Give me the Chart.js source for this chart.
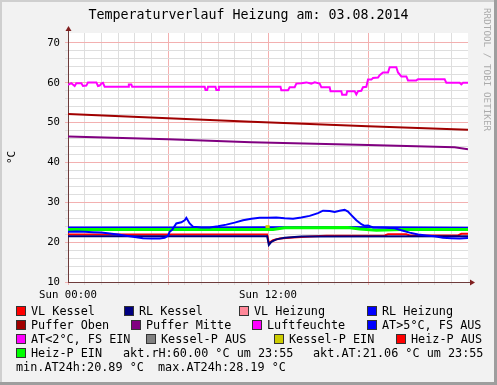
<!DOCTYPE html>
<html>
<head>
<meta charset="utf-8">
<script src="https://cdn.jsdelivr.net/npm/chart.js@4.4.1/dist/chart.umd.min.js"></script>
<style>
  html, body { margin: 0; padding: 0; background: #f2f2f2; }
  canvas { display: block; }
</style>
</head>
<body>
<canvas id="myChart" width="497" height="385"></canvas>
<script>
const ctx = document.getElementById('myChart').getContext('2d');

const chartTitle = "Temperaturverlauf Heizung am: 03.08.2014";
const yAxisTitle = "°C";
const watermark = "RRDTOOL / TOBI OETIKER";

// x = hours since Sun 00:00
const xTickLabels = { 0: "Sun 00:00", 12: "Sun 12:00" };

const seriesNames = [
    "VL Kessel", "RL Kessel", "VL Heizung", "RL Heizung",
    "Puffer Oben", "Puffer Mitte", "Luftfeuchte", "AT>5°C, FS AUS",
    "AT<2°C, FS EIN", "Kessel-P AUS", "Kessel-P EIN", "Heiz-P AUS",
    "Heiz-P EIN",
];
const seriesColors = [
    "#ff0000", "#000080", "#ff8899", "#0000ff",
    "#a00000", "#800080", "#ff00ff", "#0000ff",
    "#ff00ff", "#808080", "#cccc00", "#ff0000",
    "#00ff00",
];

// values per series (time in hours, value in °C / %)
const vlKesselT = [0, 11.95, 12.05, 12.3, 12.7, 13.5, 14.5, 15.5, 19.0, 19.2, 20.3, 20.5, 23.4, 23.6, 24];
const vlKesselV = [21.9, 21.9, 19.8, 20.5, 20.9, 21.2, 21.4, 21.6, 21.7, 22.0, 22.0, 21.7, 21.7, 22.1, 22.1];

const rlKesselT = [0, 11.95, 12.05, 12.2, 12.5, 13.0, 14.0, 24];
const rlKesselV = [21.5, 21.5, 19.3, 20.1, 20.7, 21.1, 21.4, 21.5];

const vlHeizungT = [];
const vlHeizungV = [];

const rlHeizungT = [0, 8, 16, 24];
const rlHeizungV = [23.7, 23.7, 23.8, 23.6];

const pufferObenT = [0, 6, 11, 18, 24];
const pufferObenV = [52.2, 51.1, 50.2, 49.1, 48.2];

const pufferMitteT = [0, 6, 11, 18, 23.2, 24];
const pufferMitteV = [46.5, 45.8, 45.1, 44.4, 43.8, 43.3];

const luftT = [0, 0.2, 0.4, 0.5, 0.8, 0.9, 1.1, 1.2, 1.7, 1.8, 1.9, 2.0, 2.1, 2.2,
    3.6, 3.65, 3.8, 3.85, 8.2, 8.25, 8.35, 8.4, 8.85, 8.9, 9.0, 9.05,
    12.75, 12.8, 13.2, 13.3, 13.6, 13.7, 14.0, 14.3, 14.6, 14.8, 15.1, 15.2,
    15.7, 15.75, 16.4, 16.45, 16.7, 16.75, 17.2, 17.3, 17.4, 17.6, 17.7, 17.9,
    18.0, 18.2, 18.3, 18.6, 18.7, 18.9, 19.2, 19.3, 19.7, 19.8, 20.0, 20.3,
    20.4, 20.9, 21.0, 22.6, 22.7, 23.5, 23.6, 23.7, 24];
const luftV = [59.5, 59.9, 59.2, 59.9, 59.9, 59.2, 59.3, 60.1, 60.1, 59.2, 59.3, 59.8, 60.0, 59.0,
    59.0, 59.6, 59.6, 59.0, 59.0, 58.2, 58.2, 59.0, 59.0, 58.2, 58.2, 59.0,
    59.0, 58.1, 58.1, 58.9, 58.9, 59.8, 59.9, 60.1, 59.8, 60.1, 59.8, 58.9,
    58.9, 57.9, 57.9, 57.0, 57.0, 57.9, 57.9, 57.1, 57.9, 58.0, 58.9, 59.0,
    60.8, 60.8, 61.2, 61.3, 61.9, 62.6, 62.6, 63.9, 63.9, 62.6, 61.6, 61.6,
    60.6, 60.6, 60.9, 60.9, 60.0, 60.0, 59.6, 60.0, 60.0];

const atT = [0, 0.5, 1, 1.5, 2, 2.5, 3, 3.5, 4, 4.5, 5, 5.5, 5.8, 6.0, 6.1, 6.25,
    6.5, 6.8, 7.0, 7.1, 7.3, 7.5, 8, 8.5, 9, 9.5, 10, 10.5, 11, 11.5, 12, 12.5,
    13, 13.5, 14, 14.5, 15, 15.3, 15.7, 16, 16.3, 16.6, 16.8, 17.0, 17.3, 17.6,
    17.8, 18.0, 18.3, 19.0, 19.6, 20.0, 20.5, 21.0, 21.5, 22.0, 22.5, 23.0, 23.5, 24];
const atV = [22.6, 22.7, 22.6, 22.5, 22.4, 22.2, 21.9, 21.6, 21.3, 21.0, 20.9, 20.9, 21.1, 21.6, 22.6, 23.1,
    24.7, 25.0, 25.5, 26.1, 24.7, 23.9, 23.7, 23.7, 24.0, 24.4, 24.9, 25.5, 25.9, 26.1, 26.1, 26.2,
    26.0, 25.9, 26.2, 26.6, 27.3, 27.9, 27.8, 27.6, 27.9, 28.1, 27.7, 26.8, 25.5, 24.5,
    24.1, 24.2, 23.7, 23.6, 23.5, 23.0, 22.4, 21.9, 21.7, 21.5, 21.1, 21.0, 20.9, 21.06];

const atFrostT = [];
const atFrostV = [];

const kesselAusT = [];
const kesselAusV = [];

const kesselEinT = [11.85, 12.1];
const kesselEinV = [23.9, 23.9];

const heizAusT = [];
const heizAusV = [];

const heizEinT = [0, 11.0, 12.3, 13.0, 16.8, 17.5, 18.5, 20.0, 24];
const heizEinV = [23.2, 23.2, 23.2, 23.6, 23.7, 23.3, 23.0, 23.2, 23.2];

// summary lines printed under the legend
const aktRH = 60.00;
const aktAT = 21.06;
const minAT24h = 20.89;
const maxAT24h = 28.19;
const statTime = "23:55";

const seriesT = [vlKesselT, rlKesselT, vlHeizungT, rlHeizungT, pufferObenT, pufferMitteT,
    luftT, atT, atFrostT, kesselAusT, kesselEinT, heizAusT, heizEinT];
const seriesV = [vlKesselV, rlKesselV, vlHeizungV, rlHeizungV, pufferObenV, pufferMitteV,
    luftV, atV, atFrostV, kesselAusV, kesselEinV, heizAusV, heizEinV];
// draw order (lower = on top)
const seriesOrder = [4, 3, 8, 7, 8, 8, 8, 1, 8, 8, 6, 8, 5];
const seriesWidth = [2, 2, 2, 2, 2, 2, 2, 2, 2, 2, 3, 2, 3];

const mono = "'DejaVu Sans Mono', monospace";
const gridMinor = "#dedede";
const gridMajor = "#f3b0b0";
const axisColor = "#6e3c3c";
const arrowColor = "#801f1f";

// legend layout: box x, row y
const legendSlots = [
    [17, 311], [125, 311], [240, 311], [368, 311],
    [17, 325], [132, 325], [253, 325], [368, 325],
    [17, 339], [147, 339], [275, 339], [397, 339],
    [17, 353],
];
const statLines = [
    [123, 353, `akt.rH:${aktRH.toFixed(2)} °C um ${statTime}`],
    [313, 353, `akt.AT:${aktAT.toFixed(2)} °C um ${statTime}`],
    [16, 367, `min.AT24h:${minAT24h.toFixed(2)} °C`],
    [158, 367, `max.AT24h:${maxAT24h.toFixed(2)} °C`],
];

const datasets = seriesNames.map((name, i) => ({
    label: name,
    data: seriesT[i].map((t, j) => ({ x: t, y: seriesV[i][j] })),
    borderColor: seriesColors[i],
    backgroundColor: seriesColors[i],
    borderWidth: seriesWidth[i],
    pointRadius: 0,
    tension: 0,
    fill: false,
    order: seriesOrder[i],
}));

const rrdFrame = {
    id: 'rrdFrame',
    beforeDraw(chart) {
        const c = chart.ctx, a = chart.chartArea, w = chart.width, h = chart.height;
        c.save();
        c.fillStyle = '#f2f2f2';
        c.fillRect(0, 0, w, h);
        c.fillStyle = '#cfcfcf';
        c.fillRect(0, 0, w, 2);
        c.fillRect(0, 0, 2, h);
        c.fillStyle = '#9e9e9e';
        c.fillRect(w - 3, 0, 3, h);
        c.fillRect(0, h - 3, w, 3);
        c.fillStyle = '#ffffff';
        c.fillRect(a.left, a.top, a.right - a.left, a.bottom - a.top);
        c.restore();
    },
    afterDraw(chart) {
        const c = chart.ctx, a = chart.chartArea, w = chart.width;
        c.save();
        // axis extensions + arrows
        c.strokeStyle = axisColor;
        c.lineWidth = 1;
        c.beginPath();
        c.moveTo(a.left + 0.5, a.top);
        c.lineTo(a.left + 0.5, a.top - 3);
        c.moveTo(a.right, a.bottom + 0.5);
        c.lineTo(a.right + 3, a.bottom + 0.5);
        c.stroke();
        c.fillStyle = arrowColor;
        c.beginPath();
        c.moveTo(a.left + 0.5, a.top - 7);
        c.lineTo(a.left - 2.5, a.top - 2);
        c.lineTo(a.left + 3.5, a.top - 2);
        c.closePath();
        c.fill();
        c.beginPath();
        c.moveTo(a.right + 7, a.bottom + 0.5);
        c.lineTo(a.right + 2, a.bottom - 2.5);
        c.lineTo(a.right + 2, a.bottom + 3.5);
        c.closePath();
        c.fill();

        // title
        c.fillStyle = '#000';
        c.font = `13.3px ${mono}`;
        c.textAlign = 'center';
        c.textBaseline = 'middle';
        c.fillText(chartTitle, w / 2, 16);

        // watermark
        c.save();
        c.translate(486, 8);
        c.rotate(Math.PI / 2);
        c.font = `9.3px ${mono}`;
        c.fillStyle = '#ababab';
        c.textAlign = 'left';
        c.fillText(watermark, 0, 0);
        c.restore();

        // legend
        c.font = `11.8px ${mono}`;
        c.textAlign = 'left';
        c.textBaseline = 'middle';
        chart.data.datasets.forEach((ds, i) => {
            const [x, y] = legendSlots[i];
            c.fillStyle = ds.borderColor;
            c.fillRect(x, y - 4, 8, 8);
            c.strokeStyle = '#333';
            c.lineWidth = 1;
            c.strokeRect(x - 0.5, y - 4.5, 9, 9);
            c.fillStyle = '#000';
            c.fillText(ds.label, x + 14, y + 0.5);
        });
        statLines.forEach(([x, y, txt]) => {
            c.fillStyle = '#000';
            c.fillText(txt, x, y + 0.5);
        });
        c.restore();
    },
};

const config = {
    type: 'line',
    data: { datasets },
    options: {
        responsive: false,
        animation: false,
        devicePixelRatio: 1,
        layout: { padding: { top: 33, right: 29, left: 0, bottom: 0 } },
        plugins: {
            legend: { display: false },
            title: { display: false },
            tooltip: { enabled: false },
        },
        scales: {
            x: {
                type: 'linear',
                min: 0,
                max: 24,
                afterFit(s) { s.height = 103; },
                ticks: {
                    stepSize: 1,
                    autoSkip: false,
                    maxRotation: 0,
                    padding: 4,
                    color: '#000',
                    font: { family: mono, size: 10.7 },
                    callback: v => xTickLabels[v] || '',
                },
                grid: {
                    tickLength: 3,
                    color: c => c.tick.value >= 24 ? 'rgba(0,0,0,0)' : (c.tick.value % 6 === 0 ? gridMajor : gridMinor),
                },
                border: { color: axisColor },
            },
            y: {
                min: 10,
                max: 72.5,
                afterFit(s) { s.width = 68; },
                ticks: {
                    stepSize: 2,
                    autoSkip: false,
                    padding: 5,
                    color: '#000',
                    font: { family: mono, size: 10.7 },
                    callback: v => v % 10 === 0 ? v : '',
                },
                grid: {
                    tickLength: 3,
                    color: c => c.tick.value % 2 !== 0 ? 'rgba(0,0,0,0)' : (c.tick.value % 10 === 0 ? gridMajor : gridMinor),
                },
                border: { color: axisColor },
                title: {
                    display: true,
                    text: yAxisTitle,
                    color: '#000',
                    padding: { top: 6, bottom: 0 },
                    font: { family: mono, size: 11 },
                },
            },
        },
    },
    plugins: [rrdFrame],
};

const myChart = new Chart(ctx, config);
</script>
</body>
</html>
